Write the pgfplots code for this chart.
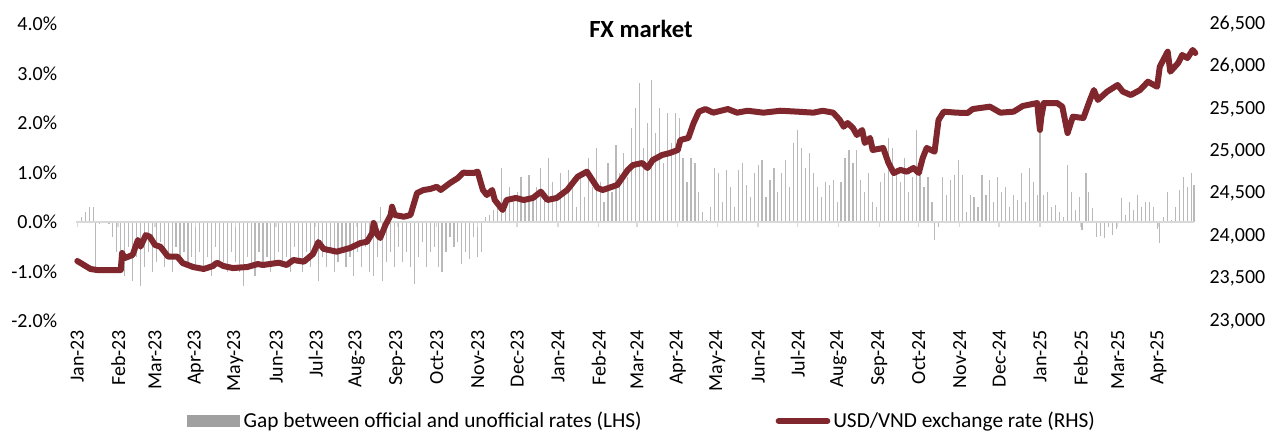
\documentclass[border=0pt]{standalone}
\usepackage{fontspec}
\setmainfont{Carlito}
\usepackage{pgfplots}
\pgfplotsset{compat=1.18}
\definecolor{fxred}{RGB}{127,39,44}
\definecolor{bargray}{RGB}{185,185,185}
\definecolor{zerogray}{RGB}{217,217,217}
\definecolor{leggray}{RGB}{160,160,160}
\begin{document}
\begin{tikzpicture}
\begin{axis}[
  name=lhs, at={(0,0)}, anchor=south west,
  scale only axis, width=838.5pt, height=222.75pt,
  xmin=-1, xmax=848, ymin=-2, ymax=4,
  axis line style={draw=none}, major tick length=0pt,
  scaled ticks=false,
  ytick={-2,-1,0,1,2,3,4},
  yticklabels={-2.0\%,-1.0\%,0.0\%,1.0\%,2.0\%,3.0\%,4.0\%},
  yticklabel style={font=\fontsize{15}{18}\selectfont, inner sep=0pt, anchor=east},
  yticklabel shift=14pt,
  xtick={0,31,59,90,120,151,181,212,243,273,304,334,365,396,425,456,486,517,547,578,609,639,670,700,731,762,790,821},
  xticklabels={Jan-23,Feb-23,Mar-23,Apr-23,May-23,Jun-23,Jul-23,Aug-23,Sep-23,Oct-23,Nov-23,Dec-23,Jan-24,Feb-24,Mar-24,Apr-24,May-24,Jun-24,Jul-24,Aug-24,Sep-24,Oct-24,Nov-24,Dec-24,Jan-25,Feb-25,Mar-25,Apr-25},
  xticklabel style={font=\fontsize{15}{18}\selectfont, rotate=90, anchor=east, inner sep=0pt},
  xticklabel shift=6.5pt,
  clip=false,
]
\addplot[ycomb, draw=bargray, line width=0.9pt] coordinates {
(0,-0.1) (3,0.1) (6,0.2) (9,0.3) (12,0.3) (14,-0.9) (17,-0.05) (21,0.02) (24,-0.05) (27,-0.3) (30,-0.6)
(33,-0.8) (36,-1.1) (39,-0.5) (42,-1.2) (45,-0.7) (48,-1.3) (51,-0.9) (54,-0.6) (57,-1.0)
(60,-0.8) (63,-0.4) (66,-0.9) (69,-0.6) (72,-1.0) (75,-0.5) (78,-0.8) (81,-0.6) (84,-0.9) (87,-0.7)
(90,-0.9) (93,-0.6) (96,-1.0) (99,-0.7) (102,-1.1) (105,-0.5) (108,-0.9) (111,-0.8) (114,-1.0) (117,-0.6)
(120,-0.8) (123,-1.0) (126,-1.3) (129,-0.7) (132,-0.9) (135,-1.1) (138,-0.6) (141,-0.9) (144,-0.7) (147,-1.0) (150,-0.8)
(153,-0.6) (156,-0.9) (159,-0.7) (162,-1.0) (165,-0.5) (168,-0.8) (171,-1.0) (174,-0.6) (177,-0.9) (180,-0.7)
(183,-1.2) (186,-0.7) (189,-0.9) (192,-0.6) (195,-1.0) (198,-0.8) (201,-0.5) (204,-0.9) (207,-0.7) (210,-1.1)
(213,-0.6) (216,-0.9) (219,-0.5) (222,-1.0) (225,-1.1) (228,-0.7) (230,0.3) (232,-1.2) (235,-0.8) (238,-0.6) (241,-0.9)
(244,-0.5) (247,-0.8) (250,-0.6) (253,-0.9) (256,-1.25) (259,-0.7) (262,-0.4) (265,-0.9) (268,-0.6) (271,-0.5)
(274,-0.9) (277,-1.0) (280,-0.6) (283,-0.3) (286,-0.5) (289,-0.4) (292,-0.85) (295,-0.6) (298,-0.75) (301,-0.3)
(304,-0.7) (307,-0.6) (310,0.1) (313,0.15) (316,0.25) (319,0.3) (322,1.1) (325,0.3) (328,0.7) (331,0.4)
(334,0.6) (337,0.9) (340,0.4) (343,0.95) (346,0.5) (349,0.7) (352,1.1) (355,0.6) (358,1.3) (361,0.8) (364,0.5)
(367,1.0) (370,0.6) (373,1.05) (376,0.8) (379,0.3) (382,0.9) (385,0.5) (388,1.3) (391,0.7) (394,1.5)
(397,0.8) (400,0.4) (403,1.2) (406,0.6) (409,1.55) (412,1.0) (415,1.4) (418,0.9) (421,1.9) (424,2.3)
(427,2.8) (430,1.5) (433,2.0) (436,2.87) (439,1.8) (442,2.3) (445,1.2) (448,2.2) (451,1.6) (454,2.2)
(457,2.1) (460,1.3) (463,0.8) (466,1.3) (469,1.2) (472,0.6) (475,0.2) (478,0.05) (481,0.3) (484,1.1)
(487,1.0) (490,0.4) (493,1.05) (496,0.7) (499,0.3) (502,1.05) (505,1.2) (508,0.75) (511,0.5) (514,1.0)
(517,1.15) (520,1.25) (523,0.5) (526,0.85) (529,1.1) (532,0.6) (535,1.0) (538,1.25) (541,0.7) (544,1.6)
(547,1.86) (550,1.5) (553,1.1) (556,1.4) (559,1.0) (562,0.7) (565,0.5) (568,0.8) (571,0.75) (574,0.85) (577,0.4)
(580,0.8) (583,1.3) (586,1.45) (589,1.2) (592,1.45) (595,0.85) (598,0.6) (601,1.0) (604,0.4) (607,0.3)
(610,0.8) (613,1.0) (616,1.7) (619,1.5) (622,1.1) (625,0.8) (628,1.3) (631,0.6) (634,0.9) (637,1.86)
(640,1.2) (643,0.7) (646,0.9) (649,0.4) (651,-0.37) (654,-0.1) (657,0.9) (660,0.55) (663,0.85) (666,0.95) (669,1.25)
(672,0.95) (675,0.2) (678,0.55) (681,0.5) (684,0.3) (687,0.95) (690,0.55) (693,0.85) (696,0.4) (699,0.9)
(702,0.6) (705,0.7) (708,0.3) (711,0.55) (714,0.45) (717,1.0) (720,0.4) (723,1.1) (726,0.8) (729,0.55)
(731,1.8) (734,0.55) (737,0.6) (740,0.3) (743,0.35) (746,0.2) (749,0.1) (752,1.15) (755,0.6) (758,0.25) (761,0.5)
(763,-0.16) (766,1.0) (768,0.6) (771,0.28) (774,-0.3) (777,-0.28) (780,-0.33) (783,-0.1) (786,-0.26) (789,-0.15)
(793,0.48) (796,0.15) (799,0.4) (802,0.25) (805,0.55) (808,0.3) (811,0.4) (814,0.4) (817,0.3) (820,-0.15)
(822,-0.43) (825,0.1) (828,0.6) (831,0.05) (834,0.3) (837,0.65) (840,0.9) (843,0.7) (846,1.0) (848,0.75)
};
\draw[zerogray, line width=1.5pt] (axis cs:-1,0) -- (axis cs:848,0);
\pgfplotsinvokeforeach{0,31,59,90,120,151,181,212,243,273,304,334,365,396,425,456,486,517,547,578,609,639,670,700,731,762,790,821}{
  \draw[zerogray, line width=1pt] (axis cs:#1,0) -- ++(0pt,-3.75pt);
}
\end{axis}
\begin{axis}[
  name=rhs, at={(0,0)}, anchor=south west,
  scale only axis, width=838.5pt, height=222.75pt,
  xmin=-1, xmax=848, ymin=23000, ymax=26500,
  axis line style={draw=none}, major tick length=0pt,
  scaled ticks=false,
  xtick=\empty,
  ytick={23000,23500,24000,24500,25000,25500,26000,26500},
  yticklabels={{23,000},{23,500},{24,000},{24,500},{25,000},{25,500},{26,000},{26,500}},
  yticklabel pos=right,
  yticklabel style={font=\fontsize{15}{18}\selectfont, inner sep=0pt, anchor=west},
  yticklabel shift=11.5pt,
  clip=false,
]
\addplot[fxred, line width=4.5pt, line join=round, line cap=round] coordinates {
(0,23707) (10,23613) (15,23601) (33,23601) (34,23801) (36,23742) (42,23778) (46,23955) (48,23876)
(52,24013) (55,23993) (59,23896) (63,23876) (65,23837) (69,23758) (76,23758) (80,23683) (88,23636)
(96,23613) (103,23648) (106,23687) (111,23648) (118,23624) (129,23636) (137,23671) (141,23660)
(153,23687) (159,23660) (164,23719) (172,23699) (179,23790) (183,23930) (187,23850) (197,23817)
(207,23860) (215,23919) (220,23934) (224,24037) (225,24155) (228,24013) (230,23978) (234,24131)
(238,24249) (239,24347) (241,24249) (248,24229) (253,24249) (258,24508) (263,24544) (268,24556)
(273,24582) (276,24544) (283,24626) (289,24685) (293,24748) (301,24744) (304,24760) (308,24544)
(311,24485) (315,24544) (317,24426) (323,24308) (326,24426) (333,24450) (339,24426) (346,24450)
(352,24524) (357,24426) (364,24450) (372,24544) (380,24701) (387,24760) (395,24568) (399,24544)
(410,24603) (418,24780) (422,24838) (429,24862) (433,24803) (437,24897) (444,24956) (450,24980)
(456,25015) (458,25133) (464,25157) (468,25333) (472,25467) (477,25498) (483,25455) (494,25498)
(501,25455) (509,25478) (521,25455) (534,25478) (547,25467) (559,25455) (566,25478) (574,25455)
(579,25369) (582,25290) (585,25333) (589,25274) (592,25192) (596,25251) (598,25098) (602,25157)
(604,25015) (612,25039) (616,24862) (620,24744) (625,24780) (630,24760) (635,24803) (639,24744)
(642,24921) (645,25039) (651,24996) (654,25369) (658,25467) (668,25455) (676,25451) (680,25498)
(693,25526) (701,25455) (711,25467) (718,25534) (729,25569) (730,25400) (731,25251) (732,25400)
(734,25569) (744,25569) (748,25526) (752,25215) (756,25408) (764,25392) (769,25605) (772,25722)
(775,25605) (782,25703) (790,25781) (794,25703) (800,25663) (807,25722) (813,25820) (820,25761)
(822,25997) (828,26174) (830,25938) (836,26041) (839,26135) (843,26099) (847,26194) (849,26158)
};
\end{axis}
\node[font=\fontsize{18.5}{22}\bfseries] at (423.75pt,219pt) {FX market};
\fill[leggray] (83.25pt,-70.5pt) rectangle (123pt,-79.5pt);
\node[anchor=west, inner sep=0pt, font=\fontsize{16}{19}\selectfont] at (125.5pt,-75.5pt) {Gap between official and unofficial rates (LHS)};
\draw[fxred, line width=4.5pt, line cap=round] (527pt,-75pt) -- (563.5pt,-75pt);
\node[anchor=west, inner sep=0pt, font=\fontsize{16}{19}\selectfont] at (567.75pt,-75.5pt) {USD/VND exchange rate (RHS)};
\pgfresetboundingbox
\path[use as bounding box] (-57pt,-84pt) rectangle (899.25pt,240.75pt);
\end{tikzpicture}
\end{document}
